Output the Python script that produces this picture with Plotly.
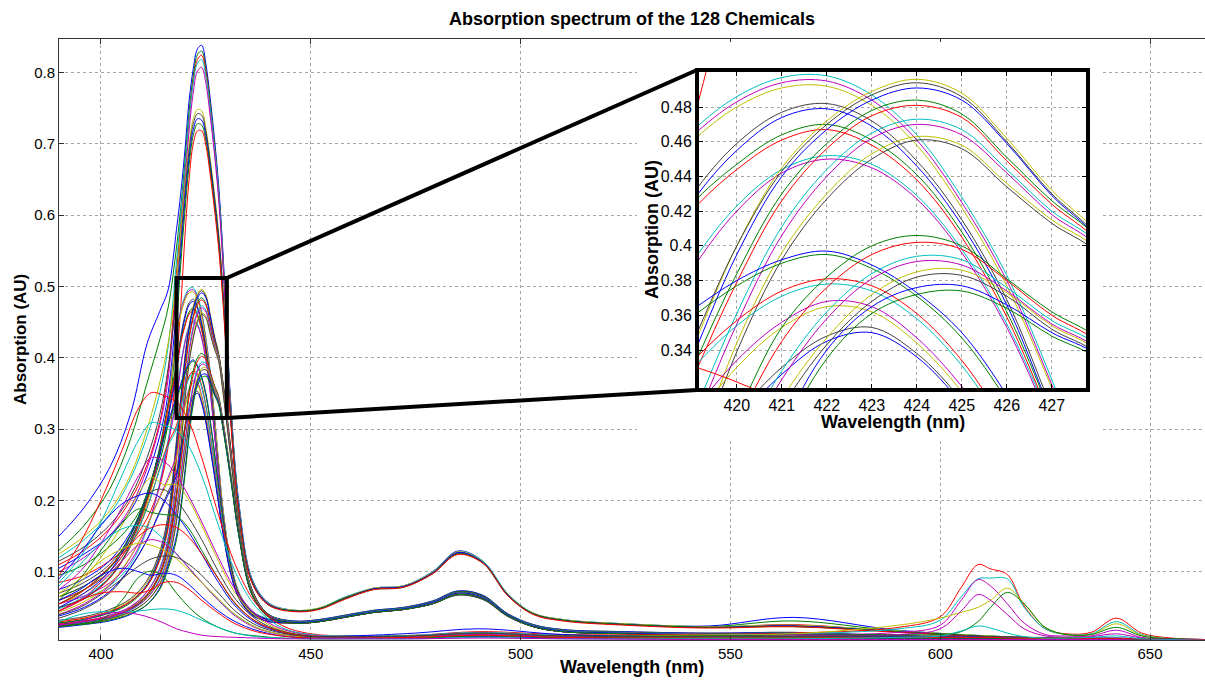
import plotly.graph_objects as go

# ---------------- data ----------------
# wavelength grid used by the narrow Soret-band spectra (nm)
WL_S = [390, 396, 402, 407, 411, 414, 416, 418, 419, 420, 421, 422, 423, 424, 425, 426, 427, 428, 429,
        431, 433, 436, 440, 446, 452, 458, 465, 472, 479, 485, 491, 497, 503, 510, 525, 545, 565, 590, 620, 663]
# wavelength grid used by the broad-band spectra (nm)
WL_B = [390, 395, 400, 405, 409, 412, 415, 418, 421, 424, 428, 432, 437, 443, 450,
        460, 475, 490, 510, 540, 565, 590, 600, 605, 609, 612, 616, 620, 625, 630, 636, 642, 648, 655, 663]

# tall Soret peaks (~0.84 and ~0.74)
T1A = [0.150, 0.190, 0.245, 0.320, 0.420, 0.465, 0.495, 0.580, 0.630, 0.690, 0.760, 0.805, 0.833, 0.838, 0.812, 0.765, 0.710, 0.645, 0.555, 0.330, 0.190, 0.090, 0.056, 0.046, 0.048, 0.062, 0.077, 0.080, 0.100, 0.129, 0.115, 0.068, 0.042, 0.033, 0.027, 0.024, 0.036, 0.018, 0.008, 0.005]
T1B = [0.130, 0.165, 0.215, 0.285, 0.365, 0.425, 0.470, 0.555, 0.610, 0.675, 0.745, 0.795, 0.825, 0.830, 0.805, 0.758, 0.703, 0.638, 0.548, 0.325, 0.186, 0.088, 0.055, 0.045, 0.049, 0.064, 0.076, 0.079, 0.098, 0.127, 0.114, 0.067, 0.041, 0.032, 0.026, 0.023, 0.031, 0.017, 0.008, 0.005]
T1C = [0.110, 0.130, 0.160, 0.200, 0.250, 0.310, 0.380, 0.520, 0.590, 0.660, 0.735, 0.788, 0.818, 0.824, 0.800, 0.752, 0.698, 0.633, 0.543, 0.322, 0.184, 0.087, 0.055, 0.045, 0.048, 0.063, 0.076, 0.079, 0.099, 0.127, 0.113, 0.067, 0.041, 0.032, 0.026, 0.022, 0.026, 0.016, 0.007, 0.005]
T1D = [0.120, 0.145, 0.180, 0.230, 0.290, 0.350, 0.415, 0.535, 0.598, 0.665, 0.735, 0.785, 0.813, 0.818, 0.795, 0.750, 0.697, 0.634, 0.546, 0.326, 0.188, 0.090, 0.056, 0.046, 0.049, 0.064, 0.077, 0.080, 0.100, 0.128, 0.115, 0.069, 0.042, 0.033, 0.027, 0.023, 0.025, 0.017, 0.008, 0.005]
T1E = [0.100, 0.120, 0.150, 0.190, 0.245, 0.305, 0.370, 0.505, 0.575, 0.645, 0.718, 0.772, 0.802, 0.807, 0.785, 0.740, 0.688, 0.625, 0.538, 0.320, 0.184, 0.088, 0.055, 0.045, 0.048, 0.063, 0.076, 0.079, 0.099, 0.126, 0.113, 0.067, 0.041, 0.032, 0.026, 0.022, 0.024, 0.016, 0.007, 0.005]
T2A = [0.125, 0.150, 0.185, 0.235, 0.300, 0.365, 0.420, 0.510, 0.575, 0.640, 0.698, 0.735, 0.748, 0.746, 0.722, 0.680, 0.632, 0.578, 0.505, 0.315, 0.182, 0.087, 0.055, 0.046, 0.049, 0.063, 0.077, 0.080, 0.099, 0.128, 0.114, 0.068, 0.042, 0.033, 0.027, 0.023, 0.025, 0.017, 0.008, 0.005]
T2B = [0.115, 0.135, 0.165, 0.205, 0.260, 0.320, 0.385, 0.490, 0.560, 0.630, 0.690, 0.728, 0.742, 0.740, 0.717, 0.676, 0.628, 0.574, 0.500, 0.312, 0.180, 0.086, 0.054, 0.045, 0.048, 0.063, 0.076, 0.079, 0.098, 0.126, 0.113, 0.067, 0.041, 0.032, 0.026, 0.022, 0.024, 0.016, 0.007, 0.005]
T2C = [0.105, 0.125, 0.150, 0.185, 0.235, 0.290, 0.350, 0.470, 0.545, 0.618, 0.680, 0.720, 0.735, 0.733, 0.711, 0.670, 0.622, 0.568, 0.495, 0.310, 0.179, 0.086, 0.054, 0.045, 0.048, 0.062, 0.076, 0.079, 0.098, 0.127, 0.113, 0.067, 0.041, 0.032, 0.026, 0.022, 0.024, 0.016, 0.007, 0.005]
T2D = [0.095, 0.110, 0.135, 0.165, 0.205, 0.255, 0.310, 0.445, 0.530, 0.605, 0.670, 0.712, 0.728, 0.726, 0.705, 0.665, 0.617, 0.563, 0.490, 0.307, 0.177, 0.085, 0.053, 0.045, 0.048, 0.062, 0.075, 0.078, 0.097, 0.125, 0.112, 0.066, 0.041, 0.032, 0.026, 0.022, 0.023, 0.016, 0.007, 0.005]
T2E = [0.085, 0.095, 0.115, 0.140, 0.175, 0.220, 0.275, 0.395, 0.470, 0.570, 0.650, 0.700, 0.718, 0.718, 0.698, 0.658, 0.610, 0.556, 0.484, 0.303, 0.175, 0.084, 0.053, 0.044, 0.047, 0.061, 0.075, 0.078, 0.097, 0.124, 0.112, 0.066, 0.040, 0.031, 0.025, 0.021, 0.023, 0.015, 0.007, 0.005]

# ~0.5 group peaking near 421.5-422 nm
P1A = [0.060, 0.075, 0.100, 0.140, 0.200, 0.270, 0.335, 0.438, 0.466, 0.486, 0.497, 0.498, 0.487, 0.464, 0.428, 0.383, 0.323, 0.256, 0.193, 0.112, 0.070, 0.045, 0.034, 0.030, 0.032, 0.038, 0.045, 0.049, 0.058, 0.072, 0.066, 0.040, 0.025, 0.018, 0.015, 0.013, 0.014, 0.010, 0.006, 0.004]
P1A2 = [0.065, 0.080, 0.105, 0.145, 0.205, 0.272, 0.335, 0.435, 0.463, 0.483, 0.494, 0.495, 0.484, 0.461, 0.425, 0.380, 0.320, 0.254, 0.191, 0.111, 0.069, 0.044, 0.033, 0.029, 0.031, 0.037, 0.044, 0.048, 0.057, 0.071, 0.065, 0.039, 0.024, 0.017, 0.014, 0.012, 0.013, 0.009, 0.006, 0.004]
P1A3 = [0.055, 0.070, 0.095, 0.135, 0.195, 0.265, 0.330, 0.432, 0.460, 0.480, 0.491, 0.492, 0.481, 0.458, 0.422, 0.377, 0.318, 0.252, 0.190, 0.110, 0.069, 0.044, 0.033, 0.030, 0.032, 0.038, 0.045, 0.049, 0.058, 0.071, 0.065, 0.040, 0.025, 0.018, 0.015, 0.013, 0.014, 0.010, 0.006, 0.004]
P1B = [0.070, 0.085, 0.110, 0.150, 0.205, 0.265, 0.320, 0.385, 0.429, 0.459, 0.477, 0.482, 0.472, 0.449, 0.415, 0.369, 0.306, 0.242, 0.182, 0.106, 0.067, 0.043, 0.033, 0.029, 0.031, 0.037, 0.044, 0.048, 0.057, 0.070, 0.064, 0.039, 0.024, 0.017, 0.014, 0.012, 0.013, 0.009, 0.006, 0.004]
P1B2 = [0.075, 0.090, 0.115, 0.155, 0.205, 0.262, 0.316, 0.380, 0.425, 0.455, 0.474, 0.479, 0.469, 0.446, 0.412, 0.366, 0.303, 0.240, 0.180, 0.105, 0.066, 0.043, 0.033, 0.030, 0.032, 0.038, 0.045, 0.049, 0.058, 0.071, 0.065, 0.040, 0.025, 0.018, 0.015, 0.013, 0.014, 0.010, 0.006, 0.004]
P1C = [0.065, 0.080, 0.105, 0.145, 0.205, 0.275, 0.335, 0.390, 0.424, 0.447, 0.464, 0.470, 0.461, 0.441, 0.408, 0.362, 0.302, 0.238, 0.178, 0.104, 0.066, 0.042, 0.032, 0.029, 0.031, 0.036, 0.043, 0.047, 0.056, 0.069, 0.063, 0.038, 0.024, 0.017, 0.014, 0.012, 0.013, 0.009, 0.006, 0.004]
P1C2 = [0.060, 0.075, 0.100, 0.140, 0.200, 0.270, 0.330, 0.385, 0.420, 0.444, 0.461, 0.467, 0.458, 0.438, 0.405, 0.359, 0.299, 0.236, 0.177, 0.103, 0.065, 0.042, 0.032, 0.030, 0.032, 0.037, 0.044, 0.048, 0.057, 0.070, 0.064, 0.039, 0.024, 0.017, 0.015, 0.013, 0.013, 0.009, 0.006, 0.004]
P1D = [0.050, 0.062, 0.080, 0.110, 0.160, 0.225, 0.285, 0.345, 0.390, 0.423, 0.444, 0.452, 0.447, 0.429, 0.398, 0.355, 0.298, 0.236, 0.177, 0.103, 0.065, 0.042, 0.032, 0.028, 0.030, 0.036, 0.043, 0.047, 0.055, 0.068, 0.062, 0.038, 0.023, 0.016, 0.014, 0.012, 0.012, 0.009, 0.005, 0.004]
P1D2 = [0.055, 0.066, 0.084, 0.114, 0.162, 0.222, 0.280, 0.340, 0.386, 0.420, 0.442, 0.450, 0.445, 0.427, 0.396, 0.353, 0.296, 0.234, 0.176, 0.102, 0.064, 0.041, 0.031, 0.029, 0.031, 0.037, 0.044, 0.048, 0.056, 0.069, 0.063, 0.038, 0.024, 0.017, 0.014, 0.012, 0.013, 0.009, 0.006, 0.004]

# ~0.5 group peaking near 424 nm
P2A = [0.030, 0.035, 0.045, 0.060, 0.085, 0.125, 0.175, 0.280, 0.340, 0.400, 0.445, 0.472, 0.489, 0.496, 0.488, 0.462, 0.432, 0.408, 0.370, 0.270, 0.165, 0.075, 0.040, 0.031, 0.033, 0.039, 0.046, 0.050, 0.059, 0.073, 0.067, 0.041, 0.026, 0.019, 0.016, 0.014, 0.015, 0.010, 0.006, 0.004]
P2A2 = [0.032, 0.037, 0.047, 0.062, 0.088, 0.128, 0.180, 0.285, 0.343, 0.400, 0.443, 0.470, 0.487, 0.494, 0.486, 0.460, 0.430, 0.406, 0.368, 0.268, 0.163, 0.074, 0.040, 0.030, 0.032, 0.038, 0.045, 0.049, 0.058, 0.072, 0.066, 0.040, 0.025, 0.018, 0.015, 0.013, 0.014, 0.010, 0.006, 0.004]
P2A3 = [0.028, 0.033, 0.043, 0.058, 0.082, 0.122, 0.170, 0.275, 0.335, 0.395, 0.440, 0.467, 0.484, 0.491, 0.484, 0.459, 0.429, 0.405, 0.367, 0.268, 0.164, 0.075, 0.040, 0.031, 0.033, 0.039, 0.046, 0.050, 0.059, 0.073, 0.067, 0.041, 0.026, 0.019, 0.016, 0.014, 0.015, 0.010, 0.006, 0.004]
P2B = [0.028, 0.033, 0.042, 0.056, 0.080, 0.118, 0.165, 0.265, 0.328, 0.384, 0.430, 0.459, 0.478, 0.484, 0.476, 0.451, 0.426, 0.405, 0.366, 0.266, 0.162, 0.074, 0.040, 0.030, 0.032, 0.038, 0.045, 0.049, 0.058, 0.072, 0.066, 0.040, 0.025, 0.018, 0.015, 0.013, 0.014, 0.010, 0.006, 0.004]
P2B2 = [0.030, 0.035, 0.044, 0.058, 0.080, 0.116, 0.160, 0.258, 0.322, 0.379, 0.426, 0.456, 0.475, 0.481, 0.474, 0.449, 0.424, 0.403, 0.364, 0.264, 0.161, 0.073, 0.039, 0.029, 0.031, 0.037, 0.044, 0.048, 0.057, 0.071, 0.065, 0.039, 0.024, 0.017, 0.014, 0.012, 0.013, 0.009, 0.006, 0.004]
P2C = [0.026, 0.030, 0.038, 0.050, 0.072, 0.105, 0.148, 0.235, 0.300, 0.361, 0.411, 0.444, 0.465, 0.473, 0.467, 0.444, 0.420, 0.402, 0.362, 0.262, 0.160, 0.073, 0.039, 0.030, 0.032, 0.038, 0.045, 0.049, 0.058, 0.071, 0.065, 0.040, 0.025, 0.018, 0.015, 0.013, 0.014, 0.010, 0.006, 0.004]
P2C2 = [0.027, 0.031, 0.039, 0.051, 0.072, 0.103, 0.144, 0.228, 0.293, 0.355, 0.406, 0.440, 0.462, 0.470, 0.464, 0.442, 0.418, 0.400, 0.360, 0.260, 0.158, 0.072, 0.039, 0.029, 0.031, 0.037, 0.044, 0.048, 0.057, 0.070, 0.064, 0.039, 0.024, 0.017, 0.014, 0.012, 0.013, 0.009, 0.006, 0.004]
P2D = [0.024, 0.028, 0.035, 0.046, 0.065, 0.095, 0.135, 0.210, 0.275, 0.344, 0.396, 0.430, 0.453, 0.463, 0.458, 0.436, 0.415, 0.398, 0.357, 0.258, 0.157, 0.072, 0.038, 0.029, 0.031, 0.037, 0.044, 0.048, 0.057, 0.070, 0.064, 0.039, 0.024, 0.017, 0.014, 0.012, 0.013, 0.009, 0.006, 0.004]
P2D2 = [0.025, 0.029, 0.036, 0.047, 0.066, 0.095, 0.132, 0.205, 0.270, 0.339, 0.392, 0.427, 0.450, 0.461, 0.456, 0.434, 0.413, 0.396, 0.355, 0.256, 0.156, 0.071, 0.038, 0.030, 0.032, 0.038, 0.045, 0.049, 0.058, 0.071, 0.065, 0.040, 0.025, 0.018, 0.015, 0.013, 0.014, 0.010, 0.006, 0.004]

# ~0.4 group peaking near 422 nm
P3A = [0.050, 0.070, 0.100, 0.150, 0.210, 0.270, 0.310, 0.345, 0.363, 0.380, 0.392, 0.397, 0.389, 0.373, 0.350, 0.314, 0.270, 0.222, 0.176, 0.105, 0.066, 0.042, 0.032, 0.028, 0.030, 0.036, 0.043, 0.047, 0.055, 0.068, 0.062, 0.038, 0.023, 0.016, 0.014, 0.012, 0.012, 0.009, 0.005, 0.004]
P3A2 = [0.055, 0.075, 0.105, 0.152, 0.210, 0.268, 0.306, 0.340, 0.359, 0.377, 0.390, 0.395, 0.387, 0.371, 0.347, 0.311, 0.268, 0.220, 0.175, 0.104, 0.065, 0.041, 0.031, 0.029, 0.031, 0.037, 0.044, 0.048, 0.056, 0.069, 0.063, 0.038, 0.024, 0.017, 0.014, 0.012, 0.013, 0.009, 0.006, 0.004]
P3B = [0.045, 0.062, 0.090, 0.135, 0.190, 0.245, 0.280, 0.305, 0.333, 0.357, 0.374, 0.381, 0.377, 0.361, 0.334, 0.296, 0.255, 0.210, 0.168, 0.101, 0.064, 0.041, 0.031, 0.028, 0.030, 0.036, 0.043, 0.047, 0.055, 0.068, 0.062, 0.038, 0.023, 0.016, 0.014, 0.012, 0.012, 0.009, 0.005, 0.004]
P3B2 = [0.048, 0.065, 0.092, 0.136, 0.190, 0.243, 0.276, 0.300, 0.329, 0.354, 0.371, 0.378, 0.374, 0.358, 0.331, 0.293, 0.252, 0.208, 0.167, 0.100, 0.063, 0.040, 0.031, 0.029, 0.031, 0.037, 0.044, 0.048, 0.056, 0.069, 0.063, 0.038, 0.024, 0.017, 0.014, 0.012, 0.013, 0.009, 0.006, 0.004]
P3C = [0.040, 0.055, 0.080, 0.120, 0.165, 0.205, 0.232, 0.265, 0.303, 0.334, 0.356, 0.368, 0.365, 0.347, 0.319, 0.283, 0.243, 0.200, 0.160, 0.098, 0.063, 0.040, 0.031, 0.028, 0.030, 0.036, 0.043, 0.047, 0.055, 0.068, 0.062, 0.038, 0.023, 0.016, 0.014, 0.012, 0.012, 0.009, 0.005, 0.004]
P3C2 = [0.043, 0.058, 0.082, 0.121, 0.165, 0.203, 0.228, 0.260, 0.298, 0.330, 0.353, 0.365, 0.362, 0.344, 0.316, 0.280, 0.241, 0.198, 0.159, 0.097, 0.062, 0.040, 0.030, 0.029, 0.031, 0.037, 0.044, 0.048, 0.056, 0.069, 0.063, 0.038, 0.024, 0.017, 0.014, 0.012, 0.013, 0.009, 0.006, 0.004]
P3D = [0.035, 0.048, 0.070, 0.105, 0.145, 0.185, 0.212, 0.240, 0.272, 0.303, 0.330, 0.348, 0.353, 0.338, 0.311, 0.276, 0.238, 0.198, 0.158, 0.096, 0.062, 0.040, 0.030, 0.028, 0.030, 0.036, 0.043, 0.047, 0.055, 0.067, 0.061, 0.037, 0.023, 0.016, 0.013, 0.011, 0.012, 0.009, 0.005, 0.004]
P3D2 = [0.038, 0.050, 0.072, 0.106, 0.145, 0.183, 0.208, 0.235, 0.267, 0.299, 0.326, 0.345, 0.350, 0.336, 0.309, 0.274, 0.236, 0.196, 0.157, 0.095, 0.061, 0.039, 0.030, 0.029, 0.031, 0.037, 0.044, 0.048, 0.056, 0.068, 0.062, 0.038, 0.024, 0.017, 0.014, 0.012, 0.013, 0.009, 0.006, 0.004]

# ~0.4 group peaking near 424.5 nm
P4A = [0.025, 0.030, 0.036, 0.048, 0.068, 0.098, 0.138, 0.210, 0.255, 0.303, 0.353, 0.382, 0.400, 0.406, 0.400, 0.381, 0.362, 0.347, 0.315, 0.235, 0.150, 0.070, 0.038, 0.029, 0.031, 0.037, 0.044, 0.048, 0.057, 0.070, 0.064, 0.039, 0.024, 0.017, 0.014, 0.012, 0.013, 0.009, 0.006, 0.004]
P4B = [0.026, 0.031, 0.037, 0.049, 0.068, 0.096, 0.134, 0.205, 0.250, 0.298, 0.345, 0.376, 0.395, 0.402, 0.398, 0.380, 0.360, 0.345, 0.313, 0.233, 0.149, 0.070, 0.038, 0.028, 0.030, 0.036, 0.043, 0.047, 0.056, 0.069, 0.063, 0.038, 0.023, 0.016, 0.014, 0.012, 0.012, 0.009, 0.005, 0.004]
P4C = [0.024, 0.029, 0.035, 0.046, 0.063, 0.090, 0.125, 0.190, 0.235, 0.282, 0.328, 0.362, 0.384, 0.394, 0.392, 0.376, 0.357, 0.343, 0.311, 0.232, 0.148, 0.069, 0.037, 0.029, 0.031, 0.037, 0.044, 0.048, 0.057, 0.070, 0.064, 0.039, 0.024, 0.017, 0.014, 0.012, 0.013, 0.009, 0.006, 0.004]
P4C2 = [0.025, 0.030, 0.036, 0.047, 0.063, 0.088, 0.121, 0.185, 0.230, 0.277, 0.323, 0.358, 0.381, 0.391, 0.389, 0.374, 0.355, 0.341, 0.309, 0.230, 0.147, 0.069, 0.037, 0.028, 0.030, 0.036, 0.043, 0.047, 0.055, 0.068, 0.062, 0.038, 0.023, 0.016, 0.013, 0.011, 0.012, 0.009, 0.005, 0.004]
P4D = [0.023, 0.027, 0.033, 0.043, 0.059, 0.084, 0.116, 0.175, 0.220, 0.266, 0.312, 0.347, 0.372, 0.385, 0.386, 0.373, 0.354, 0.340, 0.308, 0.230, 0.147, 0.069, 0.037, 0.029, 0.031, 0.037, 0.044, 0.048, 0.057, 0.070, 0.064, 0.039, 0.024, 0.017, 0.014, 0.012, 0.013, 0.009, 0.006, 0.004]
P4D2 = [0.024, 0.028, 0.034, 0.044, 0.059, 0.082, 0.112, 0.170, 0.215, 0.261, 0.307, 0.343, 0.368, 0.382, 0.383, 0.371, 0.352, 0.338, 0.306, 0.228, 0.146, 0.068, 0.037, 0.028, 0.030, 0.036, 0.043, 0.047, 0.055, 0.068, 0.062, 0.038, 0.023, 0.016, 0.013, 0.011, 0.012, 0.009, 0.005, 0.004]
P4E = [0.022, 0.026, 0.031, 0.040, 0.054, 0.077, 0.108, 0.150, 0.190, 0.240, 0.295, 0.340, 0.365, 0.376, 0.377, 0.366, 0.350, 0.337, 0.305, 0.228, 0.146, 0.068, 0.037, 0.029, 0.031, 0.037, 0.044, 0.048, 0.057, 0.070, 0.064, 0.039, 0.024, 0.017, 0.014, 0.012, 0.013, 0.009, 0.006, 0.004]
P4F = [0.023, 0.027, 0.032, 0.041, 0.054, 0.075, 0.104, 0.145, 0.185, 0.235, 0.290, 0.335, 0.361, 0.372, 0.374, 0.364, 0.348, 0.335, 0.303, 0.226, 0.145, 0.068, 0.036, 0.028, 0.030, 0.036, 0.043, 0.047, 0.055, 0.068, 0.062, 0.038, 0.023, 0.016, 0.013, 0.011, 0.012, 0.009, 0.005, 0.004]

# broad spectra peaking near 405-416 nm, some with Q bands at 609/617/642 nm
B1 = [0.095, 0.140, 0.200, 0.270, 0.330, 0.351, 0.347, 0.338, 0.310, 0.260, 0.180, 0.110, 0.055, 0.025, 0.013, 0.010, 0.011, 0.016, 0.012, 0.012, 0.014, 0.022, 0.037, 0.078, 0.110, 0.104, 0.096, 0.052, 0.020, 0.013, 0.015, 0.035, 0.014, 0.007, 0.005]
B2 = [0.085, 0.120, 0.170, 0.235, 0.285, 0.309, 0.305, 0.298, 0.275, 0.235, 0.165, 0.100, 0.050, 0.022, 0.012, 0.010, 0.011, 0.015, 0.011, 0.011, 0.013, 0.020, 0.032, 0.065, 0.090, 0.091, 0.090, 0.050, 0.020, 0.012, 0.013, 0.030, 0.012, 0.006, 0.005]
B3 = [0.075, 0.100, 0.140, 0.190, 0.235, 0.260, 0.255, 0.235, 0.205, 0.170, 0.120, 0.075, 0.040, 0.020, 0.011, 0.009, 0.010, 0.014, 0.010, 0.010, 0.012, 0.015, 0.025, 0.060, 0.089, 0.080, 0.055, 0.028, 0.012, 0.010, 0.010, 0.018, 0.008, 0.005, 0.004]
B4 = [0.065, 0.085, 0.120, 0.165, 0.210, 0.232, 0.222, 0.222, 0.200, 0.165, 0.115, 0.070, 0.037, 0.018, 0.010, 0.009, 0.010, 0.013, 0.010, 0.011, 0.013, 0.025, 0.035, 0.043, 0.050, 0.060, 0.077, 0.055, 0.022, 0.012, 0.012, 0.027, 0.011, 0.006, 0.005]
B5 = [0.050, 0.060, 0.080, 0.115, 0.170, 0.212, 0.215, 0.200, 0.175, 0.145, 0.100, 0.062, 0.033, 0.017, 0.010, 0.008, 0.009, 0.012, 0.009, 0.008, 0.008, 0.008, 0.008, 0.008, 0.008, 0.008, 0.007, 0.007, 0.007, 0.006, 0.006, 0.006, 0.006, 0.005, 0.004]
B6 = [0.090, 0.125, 0.165, 0.195, 0.207, 0.210, 0.200, 0.180, 0.155, 0.125, 0.085, 0.052, 0.028, 0.015, 0.009, 0.010, 0.014, 0.020, 0.012, 0.009, 0.009, 0.009, 0.009, 0.009, 0.009, 0.008, 0.008, 0.008, 0.007, 0.007, 0.007, 0.007, 0.006, 0.005, 0.005]
B7 = [0.060, 0.090, 0.130, 0.168, 0.188, 0.183, 0.180, 0.178, 0.160, 0.130, 0.090, 0.055, 0.030, 0.016, 0.009, 0.009, 0.010, 0.013, 0.010, 0.010, 0.011, 0.012, 0.012, 0.016, 0.030, 0.050, 0.071, 0.055, 0.022, 0.012, 0.012, 0.022, 0.010, 0.006, 0.005]
B8 = [0.055, 0.070, 0.095, 0.125, 0.150, 0.162, 0.166, 0.162, 0.148, 0.125, 0.090, 0.056, 0.030, 0.016, 0.009, 0.008, 0.008, 0.011, 0.008, 0.007, 0.007, 0.007, 0.007, 0.007, 0.007, 0.007, 0.006, 0.006, 0.006, 0.006, 0.006, 0.006, 0.005, 0.005, 0.004]
B9 = [0.080, 0.110, 0.140, 0.160, 0.165, 0.160, 0.145, 0.125, 0.105, 0.085, 0.060, 0.040, 0.022, 0.012, 0.008, 0.008, 0.009, 0.012, 0.009, 0.008, 0.008, 0.008, 0.008, 0.008, 0.008, 0.007, 0.007, 0.007, 0.007, 0.006, 0.006, 0.006, 0.006, 0.005, 0.004]
B10 = [0.045, 0.060, 0.085, 0.115, 0.138, 0.145, 0.140, 0.125, 0.105, 0.085, 0.060, 0.038, 0.021, 0.012, 0.008, 0.008, 0.009, 0.012, 0.009, 0.009, 0.010, 0.012, 0.020, 0.045, 0.068, 0.060, 0.040, 0.020, 0.010, 0.008, 0.009, 0.013, 0.007, 0.005, 0.004]
B11 = [0.070, 0.090, 0.115, 0.132, 0.140, 0.137, 0.130, 0.118, 0.102, 0.085, 0.062, 0.040, 0.022, 0.012, 0.008, 0.007, 0.008, 0.010, 0.008, 0.007, 0.007, 0.007, 0.007, 0.007, 0.007, 0.007, 0.006, 0.006, 0.006, 0.006, 0.005, 0.005, 0.005, 0.005, 0.004]
B12 = [0.040, 0.050, 0.068, 0.090, 0.108, 0.118, 0.122, 0.120, 0.110, 0.095, 0.070, 0.045, 0.025, 0.014, 0.009, 0.009, 0.010, 0.014, 0.010, 0.009, 0.009, 0.010, 0.010, 0.010, 0.010, 0.009, 0.009, 0.008, 0.008, 0.008, 0.007, 0.007, 0.006, 0.006, 0.005]
B13 = [0.060, 0.075, 0.095, 0.105, 0.100, 0.095, 0.098, 0.095, 0.082, 0.065, 0.045, 0.030, 0.018, 0.010, 0.007, 0.007, 0.007, 0.009, 0.007, 0.006, 0.006, 0.006, 0.006, 0.006, 0.006, 0.006, 0.006, 0.005, 0.005, 0.005, 0.005, 0.005, 0.005, 0.004, 0.004]
B14 = [0.030, 0.026, 0.032, 0.060, 0.092, 0.101, 0.092, 0.070, 0.050, 0.035, 0.022, 0.014, 0.010, 0.007, 0.006, 0.006, 0.007, 0.010, 0.008, 0.007, 0.007, 0.007, 0.007, 0.007, 0.007, 0.007, 0.006, 0.006, 0.006, 0.006, 0.006, 0.005, 0.005, 0.005, 0.004]
B15 = [0.045, 0.060, 0.070, 0.072, 0.070, 0.075, 0.085, 0.085, 0.075, 0.060, 0.042, 0.027, 0.016, 0.010, 0.007, 0.007, 0.008, 0.011, 0.008, 0.007, 0.007, 0.008, 0.008, 0.008, 0.008, 0.008, 0.007, 0.007, 0.007, 0.007, 0.006, 0.006, 0.006, 0.005, 0.005]
B16 = [0.030, 0.040, 0.044, 0.043, 0.045, 0.047, 0.048, 0.046, 0.040, 0.032, 0.022, 0.014, 0.009, 0.007, 0.006, 0.006, 0.006, 0.008, 0.006, 0.006, 0.006, 0.008, 0.010, 0.017, 0.024, 0.021, 0.014, 0.009, 0.007, 0.007, 0.008, 0.010, 0.006, 0.005, 0.004]
B17 = [0.025, 0.030, 0.040, 0.043, 0.040, 0.035, 0.028, 0.020, 0.015, 0.011, 0.009, 0.008, 0.007, 0.006, 0.006, 0.006, 0.006, 0.007, 0.006, 0.005, 0.005, 0.005, 0.005, 0.005, 0.005, 0.005, 0.005, 0.005, 0.005, 0.005, 0.005, 0.005, 0.004, 0.004, 0.004]

SORET_CURVES = [T1A, T1B, T1C, T1D, T1E, T2A, T2B, T2C, T2D, T2E,
                P1A, P1A2, P1A3, P1B, P1B2, P1C, P1C2, P1D, P1D2,
                P2A, P2A2, P2A3, P2B, P2B2, P2C, P2C2, P2D, P2D2,
                P3A, P3A2, P3B, P3B2, P3C, P3C2, P3D, P3D2,
                P4A, P4B, P4C, P4C2, P4D, P4D2, P4E, P4F]
BROAD_CURVES = [B1, B2, B3, B4, B5, B6, B7, B8, B9, B10, B11, B12, B13, B14, B15, B16, B17]

MAIN_XTICKS = [400, 450, 500, 550, 600, 650]
MAIN_YTICKS = [0.1, 0.2, 0.3, 0.4, 0.5, 0.6, 0.7, 0.8]
MAIN_YTICK_TEXT = ['0.1', '0.2', '0.3', '0.4', '0.5', '0.6', '0.7', '0.8']
INSET_XTICKS = [420, 421, 422, 423, 424, 425, 426, 427]
INSET_YTICKS = [0.34, 0.36, 0.38, 0.40, 0.42, 0.44, 0.46, 0.48]
INSET_YTICK_TEXT = ['0.34', '0.36', '0.38', '0.4', '0.42', '0.44', '0.46', '0.48']

TITLE = 'Absorption spectrum of the 128 Chemicals'
XLABEL = 'Wavelength (nm)'
YLABEL = 'Absorption (AU)'

# ---------------- styling / layout ----------------
COLORS = ['#0000ff', '#008000', '#ff0000', '#00bfbf', '#bf00bf', '#bfbf00', '#404040']
FONT = 'Liberation Sans, Arial, Helvetica, sans-serif'

W, H = 1205, 681
ML, MR, MT, MB = 59, 0, 39, 41
PW, PH = W - ML - MR, H - MT - MB

MAIN_X = [390.0, 663.1]
MAIN_Y = [0.0043, 0.8468]
INSET_X = [419.16, 427.76]
INSET_Y = [0.3181, 0.5002]
BOX_X = [418.0, 430.0]
BOX_Y = [0.3156, 0.5118]


def px_x(p):
    return (p - ML) / PW


def px_y(p):
    return (H - MB - p) / PH


def data_to_paper_x(v):
    return (v - MAIN_X[0]) / (MAIN_X[1] - MAIN_X[0])


def data_to_paper_y(v):
    return (v - MAIN_Y[0]) / (MAIN_Y[1] - MAIN_Y[0])


INSET_DOM_X = [px_x(699), px_x(1086)]
INSET_DOM_Y = [px_y(388), px_y(72)]
BLOCK_DOM_X = [px_x(637), px_x(1100)]
BLOCK_DOM_Y = [px_y(438), px_y(42)]

series = [(WL_S, c) for c in SORET_CURVES] + [(WL_B, c) for c in BROAD_CURVES]

fig = go.Figure()
for i, (wl, vals) in enumerate(series):
    fig.add_trace(go.Scatter(x=wl, y=vals, mode='lines', xaxis='x', yaxis='y',
                             line=dict(color=COLORS[i % len(COLORS)], width=1, shape='spline'),
                             showlegend=False, hoverinfo='skip'))
# white blocker subplot (background of the inset picture)
fig.add_trace(go.Scatter(x=[], y=[], xaxis='x2', yaxis='y2', showlegend=False, hoverinfo='skip'))
for i, (wl, vals) in enumerate(series):
    fig.add_trace(go.Scatter(x=wl, y=vals, mode='lines', xaxis='x3', yaxis='y3',
                             line=dict(color=COLORS[i % len(COLORS)], width=1, shape='spline'),
                             showlegend=False, hoverinfo='skip'))

grid = dict(showgrid=True, gridcolor='#a6a6a6', griddash='dot', gridwidth=1, zeroline=False)

fig.update_layout(
    width=W, height=H, autosize=False,
    margin=dict(l=ML, r=MR, t=MT, b=MB),
    paper_bgcolor='white', plot_bgcolor='white',
    font=dict(family=FONT, size=15, color='black'),
    showlegend=False,
    xaxis=dict(domain=[0, 1], range=MAIN_X, tickmode='array', tickvals=MAIN_XTICKS,
               ticks='inside', ticklen=5, tickcolor='#333', showline=True, linecolor='#333',
               linewidth=1, mirror='ticks', tickfont=dict(size=15), anchor='y', **grid),
    yaxis=dict(domain=[0, 1], range=MAIN_Y, tickmode='array', tickvals=MAIN_YTICKS,
               ticktext=MAIN_YTICK_TEXT, ticks='inside', ticklen=5, tickcolor='#333',
               showline=True, linecolor='#333', linewidth=1, mirror=False,
               tickfont=dict(size=15), anchor='x', **grid),
    xaxis2=dict(domain=BLOCK_DOM_X, visible=False, range=[0, 1], anchor='y2', showgrid=False, zeroline=False),
    yaxis2=dict(domain=BLOCK_DOM_Y, visible=False, range=[0, 1], anchor='x2', showgrid=False, zeroline=False),
    xaxis3=dict(domain=INSET_DOM_X, range=INSET_X, tickmode='array', tickvals=INSET_XTICKS,
                ticks='inside', ticklen=4, tickcolor='black', showline=True, linecolor='black',
                linewidth=4, mirror='ticks', tickfont=dict(size=16), anchor='y3', **grid),
    yaxis3=dict(domain=INSET_DOM_Y, range=INSET_Y, tickmode='array', tickvals=INSET_YTICKS,
                ticktext=INSET_YTICK_TEXT, ticks='inside', ticklen=4, tickcolor='black',
                showline=True, linecolor='black', linewidth=4, mirror='ticks',
                tickfont=dict(size=16), anchor='x3', **grid),
    title=dict(text=TITLE, x=0.5, xref='paper', xanchor='center', y=1 - 19 / H, yref='container',
               yanchor='middle', font=dict(size=18, weight='bold', family=FONT)),
)

ann_font = dict(size=18, weight='bold', family=FONT, color='black')
ylab_font = dict(size=17, weight='bold', family=FONT, color='black')
fig.add_annotation(text=XLABEL, xref='paper', yref='paper', x=0.5, y=px_y(667),
                   xanchor='center', yanchor='middle', showarrow=False, font=ann_font)
fig.add_annotation(text=YLABEL, xref='paper', yref='paper', x=px_x(20), y=px_y(340),
                   xanchor='center', yanchor='middle', showarrow=False, textangle=-90, font=ylab_font)
fig.add_annotation(text=XLABEL, xref='paper', yref='paper', x=px_x(892.5), y=px_y(422),
                   xanchor='center', yanchor='middle', showarrow=False, font=ann_font)
fig.add_annotation(text=YLABEL, xref='paper', yref='paper', x=px_x(652), y=px_y(230),
                   xanchor='center', yanchor='middle', showarrow=False, textangle=-90, font=ann_font)

# zoom box on the main axes and the two connector lines to the inset
fig.add_shape(type='rect', xref='x', yref='y', x0=BOX_X[0], x1=BOX_X[1], y0=BOX_Y[0], y1=BOX_Y[1],
              line=dict(color='black', width=4), layer='above')
fig.add_shape(type='line', xref='paper', yref='paper',
              x0=data_to_paper_x(BOX_X[1]), y0=data_to_paper_y(BOX_Y[1]),
              x1=px_x(697), y1=px_y(70), line=dict(color='black', width=4), layer='above')
fig.add_shape(type='line', xref='paper', yref='paper',
              x0=data_to_paper_x(BOX_X[1]), y0=data_to_paper_y(BOX_Y[0]),
              x1=px_x(697), y1=px_y(390), line=dict(color='black', width=4), layer='above')

fig.write_html('out.html')
